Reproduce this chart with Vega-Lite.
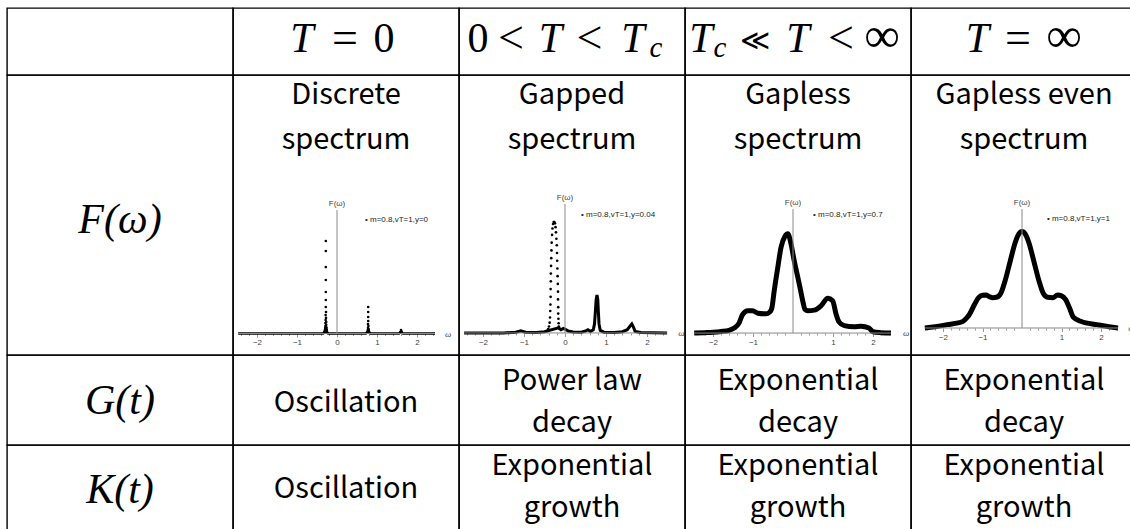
{
  "$schema": "https://vega.github.io/schema/vega-lite/v6.json",
  "padding": {"left": 6, "top": 7, "right": 0, "bottom": 0},
  "background": "white",
  "config": {
    "view": {"stroke": "#000", "strokeWidth": 1.4},
    "text": {"color": "#000"}
  },
  "columns": 5,
  "spacing": 0,
  "bounds": "flush",
  "concat": [
    {
      "width": 226, "height": 67,
      "data": {"values": [{"label": ""}]},
      "mark": {"type": "text"},
      "encoding": {"x": {"datum": 0, "type": "quantitative", "scale": {"domain": [-1, 1]}, "axis": null}, "y": {"datum": 0, "type": "quantitative", "scale": {"domain": [-1, 1]}, "axis": null}, "text": {"field": "label"}}
    },
    {
      "width": 226, "height": 67,
      "data": {"values": [{}]},
      "layer": [
        {"mark": {"type": "text", "font": "Liberation Serif", "fontStyle": "italic", "fontSize": 42, "baseline": "alphabetic", "dx": -44, "dy": 10.5}, "encoding": {"x": {"datum": 0, "type": "quantitative", "scale": {"domain": [-1, 1]}, "axis": null}, "y": {"datum": 0, "type": "quantitative", "scale": {"domain": [-1, 1]}, "axis": null}, "text": {"value": "T"}}},
        {"mark": {"type": "text", "font": "Liberation Serif", "fontSize": 46, "baseline": "alphabetic", "dx": -1, "dy": 11}, "encoding": {"x": {"datum": 0, "type": "quantitative", "axis": null}, "y": {"datum": 0, "type": "quantitative", "axis": null}, "text": {"value": "="}}},
        {"mark": {"type": "text", "font": "Liberation Serif", "fontSize": 42, "baseline": "alphabetic", "dx": 38, "dy": 10.5}, "encoding": {"x": {"datum": 0, "type": "quantitative", "axis": null}, "y": {"datum": 0, "type": "quantitative", "axis": null}, "text": {"value": "0"}}}
      ]
    },
    {
      "width": 226, "height": 67,
      "data": {"values": [{}]},
      "layer": [
        {"mark": {"type": "text", "font": "Liberation Serif", "fontSize": 42, "baseline": "alphabetic", "dx": -94, "dy": 10.5}, "encoding": {"x": {"datum": 0, "type": "quantitative", "scale": {"domain": [-1, 1]}, "axis": null}, "y": {"datum": 0, "type": "quantitative", "scale": {"domain": [-1, 1]}, "axis": null}, "text": {"value": "0"}}},
        {"mark": {"type": "text", "font": "Liberation Serif", "fontSize": 46, "baseline": "alphabetic", "dx": -61, "dy": 11}, "encoding": {"x": {"datum": 0, "type": "quantitative", "axis": null}, "y": {"datum": 0, "type": "quantitative", "axis": null}, "text": {"value": "<"}}},
        {"mark": {"type": "text", "font": "Liberation Serif", "fontStyle": "italic", "fontSize": 42, "baseline": "alphabetic", "dx": -21.5, "dy": 10.5}, "encoding": {"x": {"datum": 0, "type": "quantitative", "axis": null}, "y": {"datum": 0, "type": "quantitative", "axis": null}, "text": {"value": "T"}}},
        {"mark": {"type": "text", "font": "Liberation Serif", "fontSize": 46, "baseline": "alphabetic", "dx": 17.5, "dy": 11}, "encoding": {"x": {"datum": 0, "type": "quantitative", "axis": null}, "y": {"datum": 0, "type": "quantitative", "axis": null}, "text": {"value": "<"}}},
        {"mark": {"type": "text", "font": "Liberation Serif", "fontStyle": "italic", "fontSize": 42, "baseline": "alphabetic", "dx": 61, "dy": 10.5}, "encoding": {"x": {"datum": 0, "type": "quantitative", "axis": null}, "y": {"datum": 0, "type": "quantitative", "axis": null}, "text": {"value": "T"}}},
        {"mark": {"type": "text", "font": "Liberation Serif", "fontStyle": "italic", "fontSize": 29, "baseline": "alphabetic", "dx": 84, "dy": 15}, "encoding": {"x": {"datum": 0, "type": "quantitative", "axis": null}, "y": {"datum": 0, "type": "quantitative", "axis": null}, "text": {"value": "c"}}}
      ]
    },
    {
      "width": 226, "height": 67,
      "data": {"values": [{}]},
      "layer": [
        {"mark": {"type": "text", "font": "Liberation Serif", "fontStyle": "italic", "fontSize": 42, "baseline": "alphabetic", "dx": -97, "dy": 10.5}, "encoding": {"x": {"datum": 0, "type": "quantitative", "scale": {"domain": [-1, 1]}, "axis": null}, "y": {"datum": 0, "type": "quantitative", "scale": {"domain": [-1, 1]}, "axis": null}, "text": {"value": "T"}}},
        {"mark": {"type": "text", "font": "Liberation Serif", "fontStyle": "italic", "fontSize": 29, "baseline": "alphabetic", "dx": -78, "dy": 15}, "encoding": {"x": {"datum": 0, "type": "quantitative", "axis": null}, "y": {"datum": 0, "type": "quantitative", "axis": null}, "text": {"value": "c"}}},
        {"mark": {"type": "text", "font": "DejaVu Serif", "fontSize": 29, "baseline": "alphabetic", "dx": -43, "dy": 8.5}, "encoding": {"x": {"datum": 0, "type": "quantitative", "axis": null}, "y": {"datum": 0, "type": "quantitative", "axis": null}, "text": {"value": "≪"}}},
        {"mark": {"type": "text", "font": "Liberation Serif", "fontStyle": "italic", "fontSize": 42, "baseline": "alphabetic", "dx": 0, "dy": 10.5}, "encoding": {"x": {"datum": 0, "type": "quantitative", "axis": null}, "y": {"datum": 0, "type": "quantitative", "axis": null}, "text": {"value": "T"}}},
        {"mark": {"type": "text", "font": "Liberation Serif", "fontSize": 46, "baseline": "alphabetic", "dx": 43, "dy": 11}, "encoding": {"x": {"datum": 0, "type": "quantitative", "axis": null}, "y": {"datum": 0, "type": "quantitative", "axis": null}, "text": {"value": "<"}}},
        {"mark": {"type": "text", "font": "Liberation Serif", "fontSize": 50, "baseline": "alphabetic", "dx": 84, "dy": 10.5}, "encoding": {"x": {"datum": 0, "type": "quantitative", "axis": null}, "y": {"datum": 0, "type": "quantitative", "axis": null}, "text": {"value": "∞"}}}
      ]
    },
    {
      "width": 226, "height": 67,
      "data": {"values": [{}]},
      "layer": [
        {"mark": {"type": "text", "font": "Liberation Serif", "fontStyle": "italic", "fontSize": 42, "baseline": "alphabetic", "dx": -46.5, "dy": 10.5}, "encoding": {"x": {"datum": 0, "type": "quantitative", "scale": {"domain": [-1, 1]}, "axis": null}, "y": {"datum": 0, "type": "quantitative", "scale": {"domain": [-1, 1]}, "axis": null}, "text": {"value": "T"}}},
        {"mark": {"type": "text", "font": "Liberation Serif", "fontSize": 46, "baseline": "alphabetic", "dx": -6, "dy": 11}, "encoding": {"x": {"datum": 0, "type": "quantitative", "axis": null}, "y": {"datum": 0, "type": "quantitative", "axis": null}, "text": {"value": "="}}},
        {"mark": {"type": "text", "font": "Liberation Serif", "fontSize": 50, "baseline": "alphabetic", "dx": 40, "dy": 10.5}, "encoding": {"x": {"datum": 0, "type": "quantitative", "axis": null}, "y": {"datum": 0, "type": "quantitative", "axis": null}, "text": {"value": "∞"}}}
      ]
    },
    {
      "width": 226, "height": 280,
      "data": {"values": [{"label": "F(ω)"}]},
      "mark": {"type": "text", "font": "Liberation Serif", "fontStyle": "italic", "fontSize": 42, "baseline": "alphabetic", "dy": 18},
      "encoding": {"x": {"datum": 0, "type": "quantitative", "scale": {"domain": [-1, 1]}, "axis": null}, "y": {"datum": 0, "type": "quantitative", "scale": {"domain": [-1, 1]}, "axis": null}, "text": {"field": "label"}}
    },
    {
      "width": 226, "height": 280,
      "resolve": {"axis": {"x": "independent"}},
      "layer": [
        {
          "data": {"values": [{"title": "Discrete\nspectrum"}]},
          "mark": {"type": "text", "font": "Noto Sans CJK JP", "fontSize": 29, "lineBreak": "\n", "lineHeight": 45, "baseline": "middle"},
          "encoding": {"y": {"datum": 1.931, "type": "quantitative", "axis": null}, "text": {"field": "title"}}
        },
        {
          "data": {"values": [
            {"omega": -2.47, "F": 0}, {"omega": -0.35, "F": 0}, {"omega": -0.3, "F": 0.015}, {"omega": -0.28, "F": 0.02}, {"omega": -0.26, "F": 0.015}, {"omega": -0.22, "F": 0},
            {"omega": 0.72, "F": 0}, {"omega": 0.76, "F": 0.012}, {"omega": 0.8, "F": 0.012}, {"omega": 0.84, "F": 0}, {"omega": 1.55, "F": 0}, {"omega": 1.6, "F": 0.015}, {"omega": 1.65, "F": 0}, {"omega": 2.45, "F": 0}
          ]},
          "mark": {"type": "line", "color": "#000", "strokeWidth": 2.5},
          "encoding": {
            "x": {"field": "omega", "type": "quantitative", "scale": {"domain": [-2.6, 3.05], "nice": false, "zero": false},
              "axis": {"orient": "bottom", "offset": -21.5, "domain": false, "grid": false, "title": null, "values": [-2, -1, 0, 1, 2],
                "tickSize": 3.5, "tickColor": "#999", "labelPadding": 1.5, "labelFont": "Liberation Sans", "labelFontSize": 8, "labelColor": "#444", "labelOverlap": false, "labelFlush": false}},
            "y": {"field": "F", "type": "quantitative", "scale": {"domain": [-0.174, 2.093], "nice": false, "zero": false}, "axis": null}
          }
        },
        {
          "data": {"values": [{}]},
          "mark": {"type": "rule", "color": "#8a8a8a", "strokeWidth": 1},
          "encoding": {"x": {"datum": -2.47, "type": "quantitative",
              "axis": {"orient": "bottom", "offset": -21.5, "domain": false, "grid": false, "title": null, "labels": false, "tickSize": 2, "tickColor": "#999",
                "values": [-2.4, -2.2, -1.8, -1.6, -1.4, -1.2, -0.8, -0.6, -0.4, -0.2, 0.2, 0.4, 0.6, 0.8, 1.2, 1.4, 1.6, 1.8, 2.2, 2.4]}},
            "x2": {"datum": 2.45}, "y": {"datum": 0, "type": "quantitative", "axis": null}}
        },
        {
          "data": {"values": [{}]},
          "mark": {"type": "rule", "color": "#8a8a8a", "strokeWidth": 1},
          "encoding": {"x": {"datum": 0, "type": "quantitative", "axis": null}, "y": {"datum": 0, "type": "quantitative", "axis": null}, "y2": {"datum": 1}}
        },
        {
          "data": {"values": [
            {"omega": -0.28, "F": 0.749}, {"omega": -0.28, "F": 0.668}, {"omega": -0.28, "F": 0.538}, {"omega": -0.28, "F": 0.433}, {"omega": -0.28, "F": 0.336}, {"omega": -0.28, "F": 0.271}, {"omega": -0.28, "F": 0.215},
            {"omega": -0.275, "F": 0.174}, {"omega": -0.285, "F": 0.15}, {"omega": -0.275, "F": 0.126}, {"omega": -0.285, "F": 0.109}, {"omega": -0.27, "F": 0.093}, {"omega": -0.29, "F": 0.085}, {"omega": -0.27, "F": 0.07}, {"omega": -0.29, "F": 0.06},
            {"omega": -0.265, "F": 0.05}, {"omega": -0.295, "F": 0.045}, {"omega": -0.26, "F": 0.035}, {"omega": -0.3, "F": 0.03}, {"omega": -0.255, "F": 0.022}, {"omega": -0.305, "F": 0.02}, {"omega": -0.25, "F": 0.012}, {"omega": -0.31, "F": 0.012},
            {"omega": 0.78, "F": 0.215}, {"omega": 0.78, "F": 0.174}, {"omega": 0.78, "F": 0.134}, {"omega": 0.78, "F": 0.101}, {"omega": 0.775, "F": 0.077}, {"omega": 0.785, "F": 0.061}, {"omega": 0.775, "F": 0.045}, {"omega": 0.79, "F": 0.035}, {"omega": 0.77, "F": 0.028}, {"omega": 0.795, "F": 0.02}, {"omega": 0.765, "F": 0.015},
            {"omega": 1.6, "F": 0.028}, {"omega": 1.61, "F": 0.018}, {"omega": 1.59, "F": 0.012}
          ]},
          "mark": {"type": "point", "filled": true, "color": "#000", "size": 7, "opacity": 1},
          "encoding": {"x": {"field": "omega", "type": "quantitative", "axis": null}, "y": {"field": "F", "type": "quantitative", "axis": null}}
        },
        {
          "data": {"values": [{"label": "F(ω)"}]},
          "mark": {"type": "text", "font": "Liberation Sans", "fontSize": 8, "color": "#444", "baseline": "bottom", "dy": -2},
          "encoding": {"x": {"datum": 0, "type": "quantitative", "axis": null}, "y": {"datum": 1, "type": "quantitative", "axis": null}, "text": {"field": "label"}}
        },
        {
          "data": {"values": [{"label": "ω"}]},
          "mark": {"type": "text", "font": "Liberation Serif", "fontStyle": "italic", "fontSize": 9, "color": "#444", "align": "left", "baseline": "middle"},
          "encoding": {"x": {"datum": 2.7, "type": "quantitative", "axis": null}, "y": {"datum": 0, "type": "quantitative", "axis": null}, "text": {"field": "label"}}
        },
        {
          "data": {"values": [{"label": "•  m=0.8,vT=1,y=0"}]},
          "mark": {"type": "text", "font": "Liberation Sans", "fontSize": 8, "color": "#222", "align": "left", "baseline": "middle"},
          "encoding": {"x": {"datum": 0.7, "type": "quantitative", "axis": null}, "y": {"datum": 0.92, "type": "quantitative", "axis": null}, "text": {"field": "label"}}
        }
      ]
    },
    {
      "width": 226, "height": 280,
      "resolve": {"axis": {"x": "independent"}},
      "layer": [
        {
          "data": {"values": [{"title": "Gapped\nspectrum"}]},
          "mark": {"type": "text", "font": "Noto Sans CJK JP", "fontSize": 29, "lineBreak": "\n", "lineHeight": 45, "baseline": "middle"},
          "encoding": {"y": {"datum": 1.845, "type": "quantitative", "axis": null}, "text": {"field": "title"}}
        },
        {
          "data": {"values": [
            {"omega": -2.46, "F": 0}, {"omega": -1.5, "F": 0}, {"omega": -1.2, "F": 0.006}, {"omega": -1.08, "F": 0.016}, {"omega": -0.96, "F": 0.006}, {"omega": -0.7, "F": 0.004}, {"omega": -0.5, "F": 0.01}, {"omega": -0.44, "F": 0.015},
            {"omega": -0.16, "F": 0.04}, {"omega": -0.1, "F": 0.025}, {"omega": -0.04, "F": 0.035}, {"omega": 0.0, "F": 0.03}, {"omega": 0.08, "F": 0.015}, {"omega": 0.2, "F": 0.008}, {"omega": 0.4, "F": 0.006}, {"omega": 0.5, "F": 0.015},
            {"omega": 0.56, "F": 0.025}, {"omega": 0.62, "F": 0.012}, {"omega": 0.69, "F": 0.025}, {"omega": 0.72, "F": 0.07}, {"omega": 0.74, "F": 0.16}, {"omega": 0.76, "F": 0.26}, {"omega": 0.78, "F": 0.295}, {"omega": 0.8, "F": 0.26},
            {"omega": 0.815, "F": 0.16}, {"omega": 0.83, "F": 0.07}, {"omega": 0.86, "F": 0.02}, {"omega": 0.95, "F": 0.006}, {"omega": 1.2, "F": 0.004}, {"omega": 1.4, "F": 0.01}, {"omega": 1.52, "F": 0.025}, {"omega": 1.58, "F": 0.05},
            {"omega": 1.63, "F": 0.07}, {"omega": 1.67, "F": 0.045}, {"omega": 1.71, "F": 0.012}, {"omega": 1.85, "F": 0.003}, {"omega": 2.49, "F": 0}
          ]},
          "mark": {"type": "line", "color": "#000", "strokeWidth": 3},
          "encoding": {
            "x": {"field": "omega", "type": "quantitative", "scale": {"domain": [-2.585, 2.927], "nice": false, "zero": false},
              "axis": {"orient": "bottom", "offset": -22, "domain": false, "grid": false, "title": null, "values": [-2, -1, 0, 1, 2],
                "tickSize": 3.5, "tickColor": "#999", "labelPadding": 1.5, "labelFont": "Liberation Sans", "labelFontSize": 8, "labelColor": "#444", "labelOverlap": false, "labelFlush": false}},
            "y": {"field": "F", "type": "quantitative", "scale": {"domain": [-0.171, 2.0], "nice": false, "zero": false}, "axis": null}
          }
        },
        {
          "data": {"values": [{}]},
          "mark": {"type": "rule", "color": "#8a8a8a", "strokeWidth": 1},
          "encoding": {"x": {"datum": -2.46, "type": "quantitative",
              "axis": {"orient": "bottom", "offset": -22, "domain": false, "grid": false, "title": null, "labels": false, "tickSize": 2, "tickColor": "#999",
                "values": [-2.4, -2.2, -1.8, -1.6, -1.4, -1.2, -0.8, -0.6, -0.4, -0.2, 0.2, 0.4, 0.6, 0.8, 1.2, 1.4, 1.6, 1.8, 2.2, 2.4]}},
            "x2": {"datum": 2.49}, "y": {"datum": 0, "type": "quantitative", "axis": null}}
        },
        {
          "data": {"values": [{}]},
          "mark": {"type": "rule", "color": "#8a8a8a", "strokeWidth": 1},
          "encoding": {"x": {"datum": 0, "type": "quantitative", "axis": null}, "y": {"datum": 0, "type": "quantitative", "axis": null}, "y2": {"datum": 1}}
        },
        {
          "data": {"values": [
            {"omega": -0.44, "F": 0.015}, {"omega": -0.41, "F": 0.03}, {"omega": -0.39, "F": 0.05}, {"omega": -0.375, "F": 0.08}, {"omega": -0.365, "F": 0.12}, {"omega": -0.36, "F": 0.17}, {"omega": -0.355, "F": 0.22}, {"omega": -0.35, "F": 0.28},
            {"omega": -0.35, "F": 0.34}, {"omega": -0.345, "F": 0.4}, {"omega": -0.345, "F": 0.46}, {"omega": -0.34, "F": 0.52}, {"omega": -0.335, "F": 0.58}, {"omega": -0.33, "F": 0.64}, {"omega": -0.325, "F": 0.7}, {"omega": -0.315, "F": 0.76},
            {"omega": -0.305, "F": 0.81}, {"omega": -0.29, "F": 0.845}, {"omega": -0.275, "F": 0.86}, {"omega": -0.26, "F": 0.86}, {"omega": -0.245, "F": 0.85}, {"omega": -0.23, "F": 0.82}, {"omega": -0.22, "F": 0.78}, {"omega": -0.21, "F": 0.73},
            {"omega": -0.2, "F": 0.68}, {"omega": -0.195, "F": 0.62}, {"omega": -0.19, "F": 0.56}, {"omega": -0.185, "F": 0.5}, {"omega": -0.18, "F": 0.44}, {"omega": -0.175, "F": 0.38}, {"omega": -0.17, "F": 0.32}, {"omega": -0.17, "F": 0.26},
            {"omega": -0.165, "F": 0.2}, {"omega": -0.165, "F": 0.15}, {"omega": -0.16, "F": 0.11}, {"omega": -0.155, "F": 0.075}, {"omega": -0.15, "F": 0.05}, {"omega": -0.14, "F": 0.035}
          ]},
          "mark": {"type": "point", "filled": true, "color": "#000", "size": 7, "opacity": 1},
          "encoding": {"x": {"field": "omega", "type": "quantitative", "axis": null}, "y": {"field": "F", "type": "quantitative", "axis": null}}
        },
        {
          "data": {"values": [{"label": "F(ω)"}]},
          "mark": {"type": "text", "font": "Liberation Sans", "fontSize": 8, "color": "#444", "baseline": "bottom", "dy": -2},
          "encoding": {"x": {"datum": 0, "type": "quantitative", "axis": null}, "y": {"datum": 1, "type": "quantitative", "axis": null}, "text": {"field": "label"}}
        },
        {
          "data": {"values": [{"label": "ω"}]},
          "mark": {"type": "text", "font": "Liberation Serif", "fontStyle": "italic", "fontSize": 9, "color": "#444", "align": "left", "baseline": "middle"},
          "encoding": {"x": {"datum": 2.76, "type": "quantitative", "axis": null}, "y": {"datum": 0, "type": "quantitative", "axis": null}, "text": {"field": "label"}}
        },
        {
          "data": {"values": [{"label": "•  m=0.8,vT=1,y=0.04"}]},
          "mark": {"type": "text", "font": "Liberation Sans", "fontSize": 8, "color": "#222", "align": "left", "baseline": "middle"},
          "encoding": {"x": {"datum": 0.39, "type": "quantitative", "axis": null}, "y": {"datum": 0.915, "type": "quantitative", "axis": null}, "text": {"field": "label"}}
        }
      ]
    },
    {
      "width": 226, "height": 280,
      "resolve": {"axis": {"x": "independent"}},
      "layer": [
        {
          "data": {"values": [{"title": "Gapless\nspectrum"}]},
          "mark": {"type": "text", "font": "Noto Sans CJK JP", "fontSize": 29, "lineBreak": "\n", "lineHeight": 45, "baseline": "middle"},
          "encoding": {"y": {"datum": 1.919, "type": "quantitative", "axis": null}, "text": {"field": "title"}}
        },
        {
          "data": {"values": [
            {"omega": -2.47, "F": 0}, {"omega": -2.2, "F": 0.003}, {"omega": -2.0, "F": 0.006}, {"omega": -1.8, "F": 0.012}, {"omega": -1.6, "F": 0.022}, {"omega": -1.47, "F": 0.04}, {"omega": -1.35, "F": 0.08}, {"omega": -1.26, "F": 0.15},
            {"omega": -1.13, "F": 0.18}, {"omega": -1.01, "F": 0.18}, {"omega": -0.88, "F": 0.16}, {"omega": -0.68, "F": 0.155}, {"omega": -0.58, "F": 0.17}, {"omega": -0.53, "F": 0.2}, {"omega": -0.47, "F": 0.34}, {"omega": -0.38, "F": 0.53},
            {"omega": -0.3, "F": 0.69}, {"omega": -0.2, "F": 0.78}, {"omega": -0.13, "F": 0.8}, {"omega": -0.05, "F": 0.72}, {"omega": 0.02, "F": 0.6}, {"omega": 0.1, "F": 0.48}, {"omega": 0.18, "F": 0.36}, {"omega": 0.25, "F": 0.25},
            {"omega": 0.3, "F": 0.19}, {"omega": 0.37, "F": 0.18}, {"omega": 0.53, "F": 0.185}, {"omega": 0.7, "F": 0.22}, {"omega": 0.87, "F": 0.28}, {"omega": 0.99, "F": 0.26}, {"omega": 1.08, "F": 0.15}, {"omega": 1.15, "F": 0.09},
            {"omega": 1.28, "F": 0.06}, {"omega": 1.53, "F": 0.05}, {"omega": 1.7, "F": 0.055}, {"omega": 1.9, "F": 0.04}, {"omega": 2.0, "F": 0.01}, {"omega": 2.2, "F": 0.003}, {"omega": 2.45, "F": 0}
          ]},
          "mark": {"type": "line", "color": "#000", "strokeWidth": 5, "interpolate": "monotone"},
          "encoding": {
            "x": {"field": "omega", "type": "quantitative", "scale": {"domain": [-2.7, 2.95], "nice": false, "zero": false},
              "axis": {"orient": "bottom", "offset": -22, "domain": false, "grid": false, "title": null, "values": [-2, -1, 1, 2],
                "tickSize": 3.5, "tickColor": "#999", "labelPadding": 1.5, "labelFont": "Liberation Sans", "labelFontSize": 8, "labelColor": "#444", "labelOverlap": false, "labelFlush": false}},
            "y": {"field": "F", "type": "quantitative", "scale": {"domain": [-0.177, 2.081], "nice": false, "zero": false}, "axis": null}
          }
        },
        {
          "data": {"values": [{}]},
          "mark": {"type": "rule", "color": "#8a8a8a", "strokeWidth": 1},
          "encoding": {"x": {"datum": -2.47, "type": "quantitative",
              "axis": {"orient": "bottom", "offset": -22, "domain": false, "grid": false, "title": null, "labels": false, "tickSize": 2, "tickColor": "#999",
                "values": [-2.4, -2.2, -1.8, -1.6, -1.4, -1.2, -0.8, -0.6, -0.4, -0.2, 0.2, 0.4, 0.6, 0.8, 1.2, 1.4, 1.6, 1.8, 2.2, 2.4]}},
            "x2": {"datum": 2.45}, "y": {"datum": 0, "type": "quantitative", "axis": null}}
        },
        {
          "data": {"values": [{}]},
          "mark": {"type": "rule", "color": "#8a8a8a", "strokeWidth": 1},
          "encoding": {"x": {"datum": 0, "type": "quantitative", "axis": null}, "y": {"datum": 0, "type": "quantitative", "axis": null}, "y2": {"datum": 1}}
        },
        {
          "data": {"values": [{"label": "F(ω)"}]},
          "mark": {"type": "text", "font": "Liberation Sans", "fontSize": 8, "color": "#444", "baseline": "bottom", "dy": -2},
          "encoding": {"x": {"datum": 0, "type": "quantitative", "axis": null}, "y": {"datum": 1, "type": "quantitative", "axis": null}, "text": {"field": "label"}}
        },
        {
          "data": {"values": [{"label": "ω"}]},
          "mark": {"type": "text", "font": "Liberation Serif", "fontStyle": "italic", "fontSize": 9, "color": "#444", "align": "left", "baseline": "middle"},
          "encoding": {"x": {"datum": 2.75, "type": "quantitative", "axis": null}, "y": {"datum": 0, "type": "quantitative", "axis": null}, "text": {"field": "label"}}
        },
        {
          "data": {"values": [{"label": "•  m=0.8,vT=1,y=0.7"}]},
          "mark": {"type": "text", "font": "Liberation Sans", "fontSize": 8, "color": "#222", "align": "left", "baseline": "middle"},
          "encoding": {"x": {"datum": 0.5, "type": "quantitative", "axis": null}, "y": {"datum": 0.95, "type": "quantitative", "axis": null}, "text": {"field": "label"}}
        }
      ]
    },
    {
      "width": 226, "height": 280,
      "resolve": {"axis": {"x": "independent"}},
      "layer": [
        {
          "data": {"values": [{"title": "Gapless even\nspectrum"}]},
          "mark": {"type": "text", "font": "Noto Sans CJK JP", "fontSize": 29, "lineBreak": "\n", "lineHeight": 45, "baseline": "middle"},
          "encoding": {"y": {"datum": 1.958, "type": "quantitative", "axis": null}, "text": {"field": "title"}}
        },
        {
          "data": {"values": [
            {"omega": -2.46, "F": 0}, {"omega": -2.2, "F": 0.01}, {"omega": -1.9, "F": 0.028}, {"omega": -1.5, "F": 0.055}, {"omega": -1.4, "F": 0.085}, {"omega": -1.33, "F": 0.115}, {"omega": -1.2, "F": 0.2}, {"omega": -1.1, "F": 0.255},
            {"omega": -1.0, "F": 0.275}, {"omega": -0.91, "F": 0.277}, {"omega": -0.82, "F": 0.262}, {"omega": -0.74, "F": 0.255}, {"omega": -0.65, "F": 0.258}, {"omega": -0.54, "F": 0.29}, {"omega": -0.43, "F": 0.395}, {"omega": -0.3, "F": 0.56},
            {"omega": -0.17, "F": 0.72}, {"omega": -0.08, "F": 0.79}, {"omega": 0, "F": 0.81}, {"omega": 0.08, "F": 0.79}, {"omega": 0.17, "F": 0.72}, {"omega": 0.3, "F": 0.56}, {"omega": 0.43, "F": 0.395}, {"omega": 0.54, "F": 0.29},
            {"omega": 0.65, "F": 0.258}, {"omega": 0.78, "F": 0.255}, {"omega": 0.9, "F": 0.277}, {"omega": 1.0, "F": 0.27}, {"omega": 1.1, "F": 0.24}, {"omega": 1.2, "F": 0.17}, {"omega": 1.3, "F": 0.09}, {"omega": 1.5, "F": 0.055},
            {"omega": 1.9, "F": 0.028}, {"omega": 2.2, "F": 0.01}, {"omega": 2.43, "F": 0}
          ]},
          "mark": {"type": "line", "color": "#000", "strokeWidth": 5, "interpolate": "monotone"},
          "encoding": {
            "x": {"field": "omega", "type": "quantitative", "scale": {"domain": [-2.81, 2.91], "nice": false, "zero": false},
              "axis": {"orient": "bottom", "offset": -27, "domain": false, "grid": false, "title": null, "values": [-2, -1, 1, 2],
                "tickSize": 3.5, "tickColor": "#999", "labelPadding": 1.5, "labelFont": "Liberation Sans", "labelFontSize": 8, "labelColor": "#444", "labelOverlap": false, "labelFlush": false}},
            "y": {"field": "F", "type": "quantitative", "scale": {"domain": [-0.227, 2.126], "nice": false, "zero": false}, "axis": null}
          }
        },
        {
          "data": {"values": [{}]},
          "mark": {"type": "rule", "color": "#8a8a8a", "strokeWidth": 1},
          "encoding": {"x": {"datum": -2.46, "type": "quantitative",
              "axis": {"orient": "bottom", "offset": -27, "domain": false, "grid": false, "title": null, "labels": false, "tickSize": 2, "tickColor": "#999",
                "values": [-2.4, -2.2, -1.8, -1.6, -1.4, -1.2, -0.8, -0.6, -0.4, -0.2, 0.2, 0.4, 0.6, 0.8, 1.2, 1.4, 1.6, 1.8, 2.2, 2.4]}},
            "x2": {"datum": 2.43}, "y": {"datum": 0, "type": "quantitative", "axis": null}}
        },
        {
          "data": {"values": [{}]},
          "mark": {"type": "rule", "color": "#8a8a8a", "strokeWidth": 1},
          "encoding": {"x": {"datum": 0, "type": "quantitative", "axis": null}, "y": {"datum": 0, "type": "quantitative", "axis": null}, "y2": {"datum": 1}}
        },
        {
          "data": {"values": [{"label": "F(ω)"}]},
          "mark": {"type": "text", "font": "Liberation Sans", "fontSize": 8, "color": "#444", "baseline": "bottom", "dy": -2},
          "encoding": {"x": {"datum": 0, "type": "quantitative", "axis": null}, "y": {"datum": 1, "type": "quantitative", "axis": null}, "text": {"field": "label"}}
        },
        {
          "data": {"values": [{"label": "ω"}]},
          "mark": {"type": "text", "font": "Liberation Serif", "fontStyle": "italic", "fontSize": 9, "color": "#444", "align": "left", "baseline": "middle"},
          "encoding": {"x": {"datum": 2.69, "type": "quantitative", "axis": null}, "y": {"datum": 0, "type": "quantitative", "axis": null}, "text": {"field": "label"}}
        },
        {
          "data": {"values": [{"label": "•  m=0.8,vT=1,y=1"}]},
          "mark": {"type": "text", "font": "Liberation Sans", "fontSize": 8, "color": "#222", "align": "left", "baseline": "middle"},
          "encoding": {"x": {"datum": 0.63, "type": "quantitative", "axis": null}, "y": {"datum": 0.916, "type": "quantitative", "axis": null}, "text": {"field": "label"}}
        }
      ]
    },
    {
      "width": 226, "height": 90,
      "data": {"values": [{"label": "G(t)"}]},
      "mark": {"type": "text", "font": "Liberation Serif", "fontStyle": "italic", "fontSize": 42, "baseline": "alphabetic", "dy": 14},
      "encoding": {"x": {"datum": 0, "type": "quantitative", "scale": {"domain": [-1, 1]}, "axis": null}, "y": {"datum": 0, "type": "quantitative", "scale": {"domain": [-1, 1]}, "axis": null}, "text": {"field": "label"}}
    },
    {
      "width": 226, "height": 90,
      "data": {"values": [{"label": "Oscillation"}]},
      "mark": {"type": "text", "font": "Noto Sans CJK JP", "fontSize": 29, "baseline": "middle", "dy": 3},
      "encoding": {"x": {"datum": 0, "type": "quantitative", "scale": {"domain": [-1, 1]}, "axis": null}, "y": {"datum": 0, "type": "quantitative", "scale": {"domain": [-1, 1]}, "axis": null}, "text": {"field": "label"}}
    },
    {
      "width": 226, "height": 90,
      "data": {"values": [{"label": "Power law\ndecay"}]},
      "mark": {"type": "text", "font": "Noto Sans CJK JP", "fontSize": 29, "lineBreak": "\n", "lineHeight": 42, "baseline": "middle", "dy": -19},
      "encoding": {"x": {"datum": 0, "type": "quantitative", "scale": {"domain": [-1, 1]}, "axis": null}, "y": {"datum": 0, "type": "quantitative", "scale": {"domain": [-1, 1]}, "axis": null}, "text": {"field": "label"}}
    },
    {
      "width": 226, "height": 90,
      "data": {"values": [{"label": "Exponential\ndecay"}]},
      "mark": {"type": "text", "font": "Noto Sans CJK JP", "fontSize": 29, "lineBreak": "\n", "lineHeight": 42, "baseline": "middle", "dy": -19},
      "encoding": {"x": {"datum": 0, "type": "quantitative", "scale": {"domain": [-1, 1]}, "axis": null}, "y": {"datum": 0, "type": "quantitative", "scale": {"domain": [-1, 1]}, "axis": null}, "text": {"field": "label"}}
    },
    {
      "width": 226, "height": 90,
      "data": {"values": [{"label": "Exponential\ndecay"}]},
      "mark": {"type": "text", "font": "Noto Sans CJK JP", "fontSize": 29, "lineBreak": "\n", "lineHeight": 42, "baseline": "middle", "dy": -19},
      "encoding": {"x": {"datum": 0, "type": "quantitative", "scale": {"domain": [-1, 1]}, "axis": null}, "y": {"datum": 0, "type": "quantitative", "scale": {"domain": [-1, 1]}, "axis": null}, "text": {"field": "label"}}
    },
    {
      "width": 226, "height": 90,
      "data": {"values": [{"label": "K(t)"}]},
      "mark": {"type": "text", "font": "Liberation Serif", "fontStyle": "italic", "fontSize": 42, "baseline": "alphabetic", "dy": 13},
      "encoding": {"x": {"datum": 0, "type": "quantitative", "scale": {"domain": [-1, 1]}, "axis": null}, "y": {"datum": 0, "type": "quantitative", "scale": {"domain": [-1, 1]}, "axis": null}, "text": {"field": "label"}}
    },
    {
      "width": 226, "height": 90,
      "data": {"values": [{"label": "Oscillation"}]},
      "mark": {"type": "text", "font": "Noto Sans CJK JP", "fontSize": 29, "baseline": "middle", "dy": -1},
      "encoding": {"x": {"datum": 0, "type": "quantitative", "scale": {"domain": [-1, 1]}, "axis": null}, "y": {"datum": 0, "type": "quantitative", "scale": {"domain": [-1, 1]}, "axis": null}, "text": {"field": "label"}}
    },
    {
      "width": 226, "height": 90,
      "data": {"values": [{"label": "Exponential\ngrowth"}]},
      "mark": {"type": "text", "font": "Noto Sans CJK JP", "fontSize": 29, "lineBreak": "\n", "lineHeight": 42, "baseline": "middle", "dy": -24},
      "encoding": {"x": {"datum": 0, "type": "quantitative", "scale": {"domain": [-1, 1]}, "axis": null}, "y": {"datum": 0, "type": "quantitative", "scale": {"domain": [-1, 1]}, "axis": null}, "text": {"field": "label"}}
    },
    {
      "width": 226, "height": 90,
      "data": {"values": [{"label": "Exponential\ngrowth"}]},
      "mark": {"type": "text", "font": "Noto Sans CJK JP", "fontSize": 29, "lineBreak": "\n", "lineHeight": 42, "baseline": "middle", "dy": -24},
      "encoding": {"x": {"datum": 0, "type": "quantitative", "scale": {"domain": [-1, 1]}, "axis": null}, "y": {"datum": 0, "type": "quantitative", "scale": {"domain": [-1, 1]}, "axis": null}, "text": {"field": "label"}}
    },
    {
      "width": 226, "height": 90,
      "data": {"values": [{"label": "Exponential\ngrowth"}]},
      "mark": {"type": "text", "font": "Noto Sans CJK JP", "fontSize": 29, "lineBreak": "\n", "lineHeight": 42, "baseline": "middle", "dy": -24},
      "encoding": {"x": {"datum": 0, "type": "quantitative", "scale": {"domain": [-1, 1]}, "axis": null}, "y": {"datum": 0, "type": "quantitative", "scale": {"domain": [-1, 1]}, "axis": null}, "text": {"field": "label"}}
    }
  ]
}
